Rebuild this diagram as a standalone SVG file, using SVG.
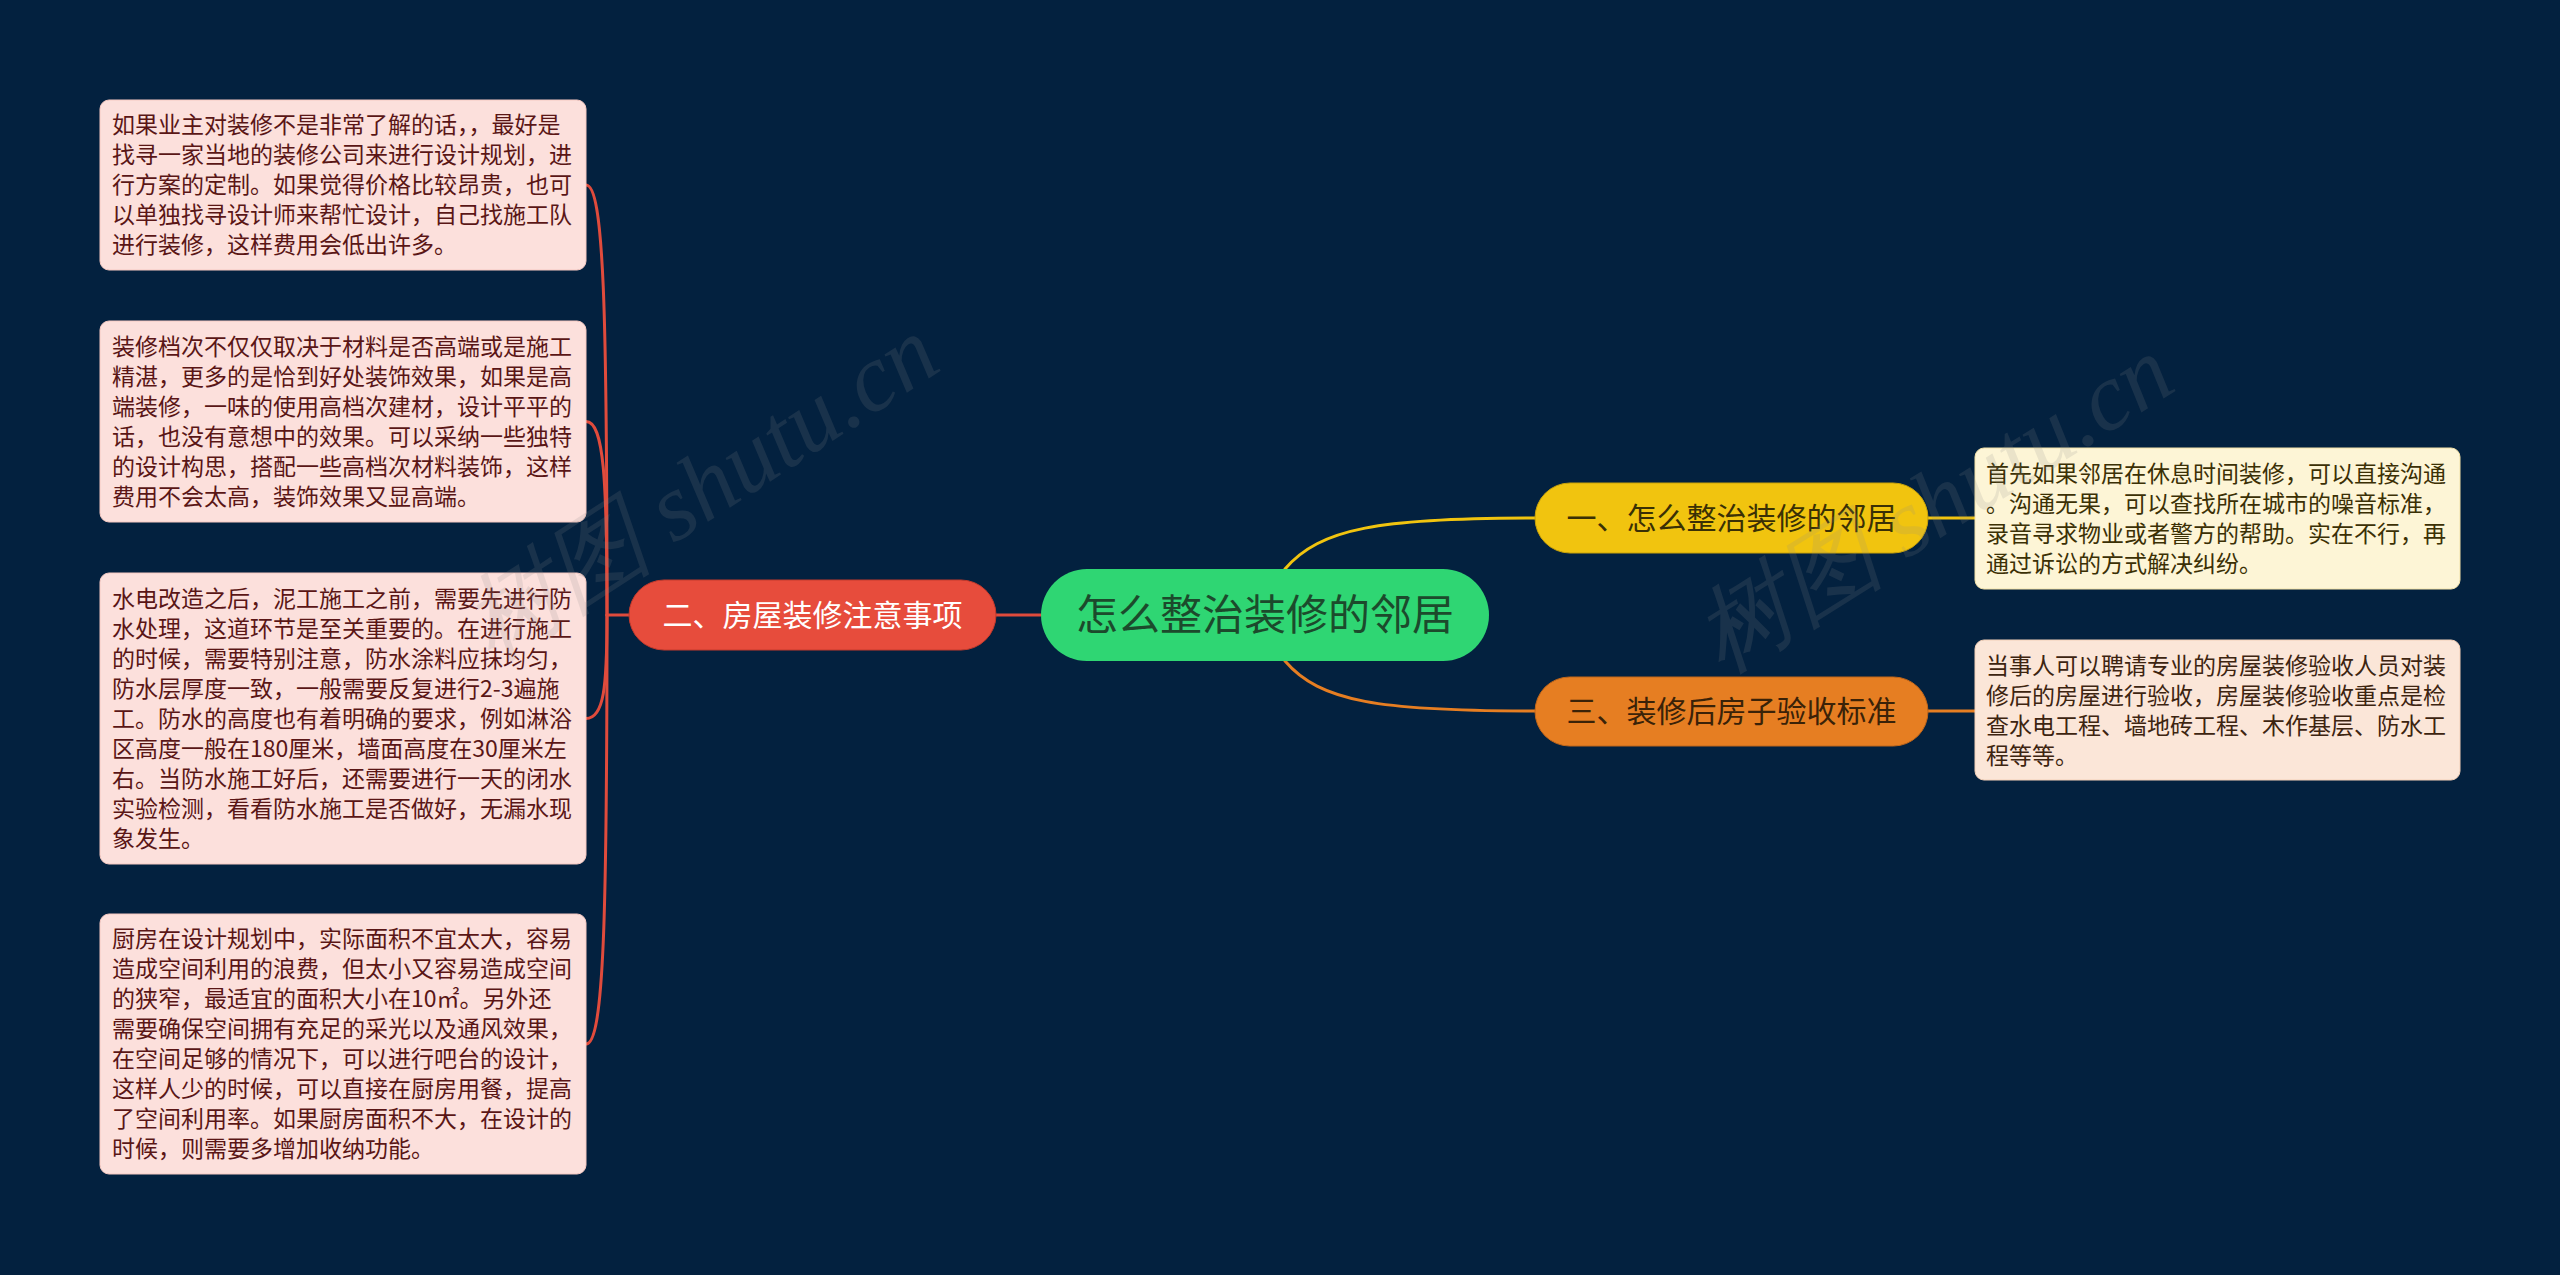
<svg xmlns="http://www.w3.org/2000/svg" width="2560" height="1275" viewBox="0 0 2560 1275">
<style>
.bg{fill:#03213f}
.leafL{fill:#fce0dc;stroke:#f6c9c2;stroke-width:1}
.leafY{fill:#fdf5d6;stroke:#f3e2a8;stroke-width:1}
.leafO{fill:#fbe6d8;stroke:#f3d0b8;stroke-width:1}
.t{font-family:"Noto Sans CJK SC","Microsoft YaHei",sans-serif}
.lt{font-size:23px;fill:#5a1616}
.yt{font-size:23px;fill:#3b3005}
.ot{font-size:23px;fill:#3d2410}
.bt{font-size:30px;text-anchor:middle}
.conn{fill:none;stroke-width:3;stroke-linecap:round}
.wm{font-family:"Liberation Serif",serif;font-style:italic;font-size:96px;fill:#8a8a8a;opacity:0.16}
</style>
<rect class="bg" x="0" y="0" width="2560" height="1275"/>

<g id="connectors">
  <path class="conn" stroke="#e04b3c" d="M1041,615 L996,615"/>
  <path class="conn" stroke="#e04b3c" d="M629,615 L607,615"/>
  <path class="conn" stroke="#e04b3c" d="M607,615 C607,314 604,185 586,185"/>
  <path class="conn" stroke="#e04b3c" d="M607,615 C607,480 604,421.5 586,421.5"/>
  <path class="conn" stroke="#e04b3c" d="M607,615 C607,687 604,718.5 586,718.5"/>
  <path class="conn" stroke="#e04b3c" d="M607,615 C607,915 604,1044 586,1044"/>
  <path class="conn" stroke="#f1c40f" d="M1285,569 C1320,528 1380,518 1535,518"/>
  <path class="conn" stroke="#e67e22" d="M1285,661 C1320,702 1380,711 1535,711"/>
  <path class="conn" stroke="#f1c40f" d="M1928,518 L1975,518"/>
  <path class="conn" stroke="#e67e22" d="M1928,711 L1975,711"/>
</g>

<g id="root">
  <rect x="1041" y="569" width="448" height="92" rx="46" fill="#2fd673"/>
  <text class="t" x="1265" y="630" font-size="42" text-anchor="middle" fill="#1c4a2c">怎么整治装修的邻居</text>
</g>

<g id="branch2">
  <rect x="629" y="580" width="367" height="70" rx="35" fill="#e74c3c" stroke="#c43a2c" stroke-width="1"/>
  <text class="t bt" x="812.5" y="626" fill="#ffffff">二、房屋装修注意事项</text>
</g>

<g id="branch1">
  <rect x="1535" y="483" width="393" height="70" rx="35" fill="#f1c40f" stroke="#c9a20a" stroke-width="1"/>
  <text class="t bt" x="1731.5" y="529" fill="#3a3005">一、怎么整治装修的邻居</text>
</g>

<g id="branch3">
  <rect x="1535" y="677" width="393" height="69" rx="34.5" fill="#e67e22" stroke="#c0661a" stroke-width="1"/>
  <text class="t bt" x="1731.5" y="722" fill="#3a2208">三、装修后房子验收标准</text>
</g>

<g id="leaf2-1">
  <rect class="leafL" x="100" y="100" width="486" height="170" rx="9"/>
  <text class="t lt" x="112"><tspan x="112" y="133">如果业主对装修不是非常了解的话，，最好是</tspan><tspan x="112" y="163">找寻一家当地的装修公司来进行设计规划，进</tspan><tspan x="112" y="193">行方案的定制。如果觉得价格比较昂贵，也可</tspan><tspan x="112" y="223">以单独找寻设计师来帮忙设计，自己找施工队</tspan><tspan x="112" y="253">进行装修，这样费用会低出许多。</tspan></text>
</g>

<g id="leaf2-2">
  <rect class="leafL" x="100" y="321" width="486" height="201" rx="9"/>
  <text class="t lt" x="112"><tspan x="112" y="354.5">装修档次不仅仅取决于材料是否高端或是施工</tspan><tspan x="112" y="384.5">精湛，更多的是恰到好处装饰效果，如果是高</tspan><tspan x="112" y="414.5">端装修，一味的使用高档次建材，设计平平的</tspan><tspan x="112" y="444.5">话，也没有意想中的效果。可以采纳一些独特</tspan><tspan x="112" y="474.5">的设计构思，搭配一些高档次材料装饰，这样</tspan><tspan x="112" y="504.5">费用不会太高，装饰效果又显高端。</tspan></text>
</g>

<g id="leaf2-3">
  <rect class="leafL" x="100" y="573" width="486" height="291" rx="9"/>
  <text class="t lt" x="112"><tspan x="112" y="606.5">水电改造之后，泥工施工之前，需要先进行防</tspan><tspan x="112" y="636.5">水处理，这道环节是至关重要的。在进行施工</tspan><tspan x="112" y="666.5">的时候，需要特别注意，防水涂料应抹均匀，</tspan><tspan x="112" y="696.5">防水层厚度一致，一般需要反复进行2-3遍施</tspan><tspan x="112" y="726.5">工。防水的高度也有着明确的要求，例如淋浴</tspan><tspan x="112" y="756.5">区高度一般在180厘米，墙面高度在30厘米左</tspan><tspan x="112" y="786.5">右。当防水施工好后，还需要进行一天的闭水</tspan><tspan x="112" y="816.5">实验检测，看看防水施工是否做好，无漏水现</tspan><tspan x="112" y="846.5">象发生。</tspan></text>
</g>

<g id="leaf2-4">
  <rect class="leafL" x="100" y="914" width="486" height="260" rx="9"/>
  <text class="t lt" x="112"><tspan x="112" y="947">厨房在设计规划中，实际面积不宜太大，容易</tspan><tspan x="112" y="977">造成空间利用的浪费，但太小又容易造成空间</tspan><tspan x="112" y="1007">的狭窄，最适宜的面积大小在10㎡。另外还</tspan><tspan x="112" y="1037">需要确保空间拥有充足的采光以及通风效果，</tspan><tspan x="112" y="1067">在空间足够的情况下，可以进行吧台的设计，</tspan><tspan x="112" y="1097">这样人少的时候，可以直接在厨房用餐，提高</tspan><tspan x="112" y="1127">了空间利用率。如果厨房面积不大，在设计的</tspan><tspan x="112" y="1157">时候，则需要多增加收纳功能。</tspan></text>
</g>

<g id="leaf1-1">
  <rect class="leafY" x="1975" y="448" width="485" height="141" rx="9"/>
  <text class="t yt" x="1986"><tspan x="1986" y="482">首先如果邻居在休息时间装修，可以直接沟通</tspan><tspan x="1986" y="512">。沟通无果，可以查找所在城市的噪音标准，</tspan><tspan x="1986" y="542">录音寻求物业或者警方的帮助。实在不行，再</tspan><tspan x="1986" y="572">通过诉讼的方式解决纠纷。</tspan></text>
</g>

<g id="leaf3-1">
  <rect class="leafO" x="1975" y="640" width="485" height="140" rx="9"/>
  <text class="t ot" x="1986"><tspan x="1986" y="674">当事人可以聘请专业的房屋装修验收人员对装</tspan><tspan x="1986" y="704">修后的房屋进行验收，房屋装修验收重点是检</tspan><tspan x="1986" y="734">查水电工程、墙地砖工程、木作基层、防水工</tspan><tspan x="1986" y="764">程等等。</tspan></text>
</g>

<g id="watermarks">
  <text class="wm" x="702" y="520" text-anchor="middle" transform="rotate(-33 702 490)">树图 shutu.cn</text>
  <text class="wm" x="1935" y="536" text-anchor="middle" transform="rotate(-32 1935 506)">树图 shutu.cn</text>
</g>
</svg>
